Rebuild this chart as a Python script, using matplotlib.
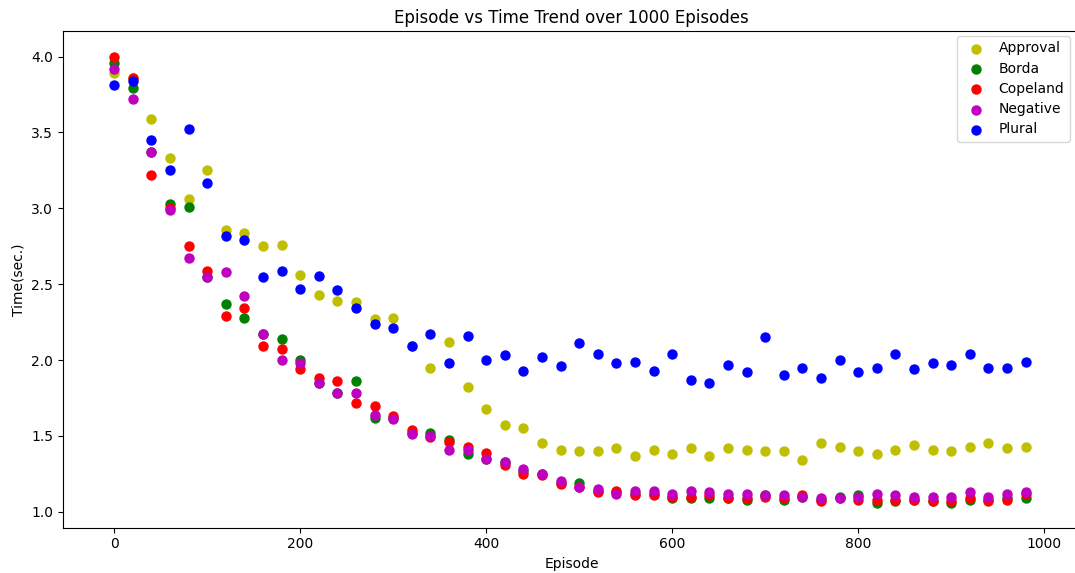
import numpy as np
import matplotlib
matplotlib.use('agg')
import matplotlib.pyplot as plt

episodes = list(range(0, 1000, 20))

approval = [3.89, 3.86, 3.59, 3.33, 3.06, 3.25, 2.86, 2.84, 2.75, 2.76,
            2.56, 2.43, 2.39, 2.38, 2.27, 2.28, 2.09, 1.95, 2.12, 1.82,
            1.68, 1.57, 1.555, 1.45, 1.41, 1.40, 1.40, 1.42, 1.37, 1.41,
            1.38, 1.42, 1.37, 1.42, 1.41, 1.40, 1.40, 1.34, 1.45, 1.43,
            1.40, 1.38, 1.41, 1.44, 1.41, 1.40, 1.43, 1.45, 1.42, 1.43]

borda = [3.96, 3.79, 3.37, 3.03, 3.01, 2.55, 2.37, 2.28, 2.17, 2.14,
         2.00, 1.85, 1.78, 1.86, 1.62, 1.62, 1.52, 1.52, 1.47, 1.38,
         1.35, 1.33, 1.27, 1.25, 1.19, 1.19, 1.14, 1.13, 1.12, 1.12,
         1.09, 1.09, 1.09, 1.09, 1.08, 1.11, 1.08, 1.10, 1.08, 1.10,
         1.11, 1.06, 1.07, 1.08, 1.07, 1.06, 1.08, 1.08, 1.09, 1.09]

copeland = [4.00, 3.86, 3.22, 3.00, 2.75, 2.59, 2.29, 2.34, 2.09, 2.07,
            1.94, 1.88, 1.86, 1.72, 1.70, 1.63, 1.54, 1.49, 1.46, 1.43,
            1.39, 1.31, 1.25, 1.24, 1.18, 1.16, 1.13, 1.14, 1.11, 1.11,
            1.10, 1.10, 1.11, 1.09, 1.09, 1.10, 1.09, 1.11, 1.07, 1.09,
            1.08, 1.08, 1.08, 1.08, 1.07, 1.07, 1.09, 1.07, 1.08, 1.12]

negative = [3.92, 3.72, 3.37, 2.99, 2.67, 2.55, 2.58, 2.42, 2.17, 2.00,
            1.98, 1.85, 1.78, 1.78, 1.64, 1.61, 1.51, 1.50, 1.41, 1.41,
            1.35, 1.33, 1.28, 1.25, 1.20, 1.16, 1.15, 1.12, 1.14, 1.14,
            1.12, 1.14, 1.13, 1.12, 1.12, 1.11, 1.11, 1.10, 1.09, 1.09,
            1.10, 1.12, 1.11, 1.10, 1.10, 1.10, 1.13, 1.10, 1.12, 1.13]

plural = [3.81, 3.84, 3.45, 3.25, 3.52, 3.17, 2.82, 2.79, 2.55, 2.59,
          2.47, 2.555, 2.46, 2.34, 2.24, 2.21, 2.09, 2.17, 1.98, 2.16,
          2.00, 2.03, 1.93, 2.02, 1.96, 2.11, 2.04, 1.98, 1.99, 1.93,
          2.04, 1.87, 1.85, 1.97, 1.92, 2.15, 1.90, 1.95, 1.88, 2.00,
          1.92, 1.95, 2.04, 1.94, 1.98, 1.97, 2.04, 1.95, 1.95, 1.99]

series = [('Approval', approval, 'y'),
          ('Borda', borda, 'g'),
          ('Copeland', copeland, 'r'),
          ('Negative', negative, 'm'),
          ('Plural', plural, 'b')]

fig = plt.figure(figsize=(10.75, 5.73), dpi=100)
# axes run slightly past the right edge of the canvas
ax = fig.add_axes([0.0583, 0.0791, 0.9467, 0.866])

for name, vals, c in series:
    ax.scatter(episodes, vals, c=c, s=42, label=name, edgecolors='face')

ax.set_xlim(-55.5, 1039)
ax.set_ylim(0.895, 4.166)
ax.set_xticks([0, 200, 400, 600, 800, 1000])
ax.set_yticks([1.0, 1.5, 2.0, 2.5, 3.0, 3.5, 4.0])
ax.set_yticklabels(['1.0', '1.5', '2.0', '2.5', '3.0', '3.5', '4.0'])
ax.set_xlabel('Episode')
ax.set_ylabel('Time(sec.)')
ax.set_title('Episode vs Time Trend over 1000 Episodes', fontsize=12)
ax.legend(loc='upper right', bbox_to_anchor=(0.9898, 0.991), borderaxespad=0,
          labelspacing=0.45, handletextpad=0.6)

plt.savefig('out.png', dpi=100)
